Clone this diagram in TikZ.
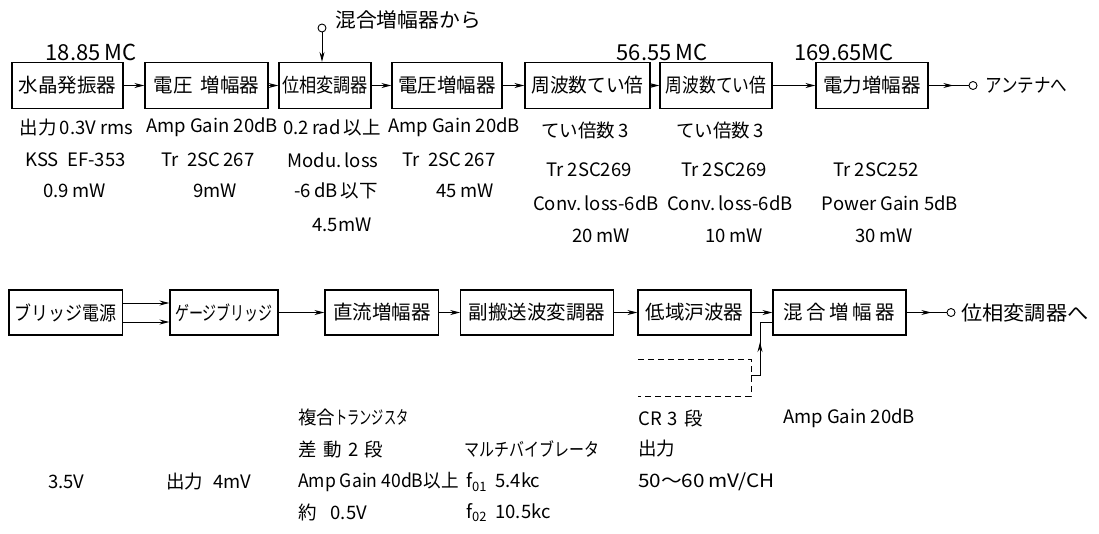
\documentclass[tikz,border=0pt]{standalone}
\usepackage{fontspec}
\setmainfont{Noto Sans CJK JP}
\usetikzlibrary{arrows.meta,decorations.markings}
\begin{document}
\begin{tikzpicture}[x=1pt,y=-1pt,
  blk/.style={draw, line width=1.1pt, minimum height=46pt, inner sep=0pt, font=\fontsize{19.5}{22}\selectfont},
  arr/.style={line width=1pt, -{Stealth[length=10pt,width=5pt]}},
  midarr/.style={line width=1pt, postaction={decorate}, decoration={markings, mark=at position 0.62 with {\arrow{Stealth[length=10pt,width=5pt]}}}},
  term/.style={circle, draw, line width=0.9pt, inner sep=0pt, minimum size=8pt, fill=white},
  lab/.style={inner sep=0pt, font=\fontsize{18.5}{20}\selectfont},
  lbl/.style={lab, anchor=west},
  freq/.style={inner sep=0pt, font=\fontsize{22}{24}\selectfont},
  dsh/.style={line width=1pt, dash pattern=on 6pt off 4pt}]
\useasboundingbox (0,0) rectangle (1099,533);

% ---------- top row ----------
\node[blk, minimum width=111pt] (a1) at (67.5,85.5) {水晶発振器};
\node[blk, minimum width=123pt] (a2) at (206.5,85.5) {電圧\hspace{8pt}増幅器};
\node[blk, minimum width=92pt] (a3) at (325,85.5) {\scalebox{0.88}[1]{位相変調器}};
\node[blk, minimum width=110pt] (a4) at (447,85.5) {電圧増幅器};
\node[blk, minimum width=125pt] (a5) at (587.5,85.5) {\scalebox{0.96}[1]{周波数てい倍}};
\node[blk, minimum width=112pt] (a6) at (716,85.5) {\scalebox{0.86}[1]{周波数てい倍}};
\node[blk, minimum width=112pt] (a7) at (872,85.5) {電力増幅器};
\node[term] (ant) at (973,85.5) {};
\node[lbl, font=\fontsize{19.5}{22}\selectfont] (antl) at (985,85.5) {\scalebox{0.85}[1]{アンテナへ}};

\draw[arr] (a1.east) -- (a2.west);
\draw[arr] (a2.east) -- (a3.west);
\draw[arr] (a3.east) -- (a4.west);
\draw[arr] (a4.east) -- (a5.west);
\draw[arr] (a5.east) -- (a6.west);
\draw[arr] (a6.east) -- (a7.west);
\draw[midarr] (a7.east) -- (ant.west);

\node[term] (mix) at (322,28) {};
\node[lbl, font=\fontsize{20}{22}\selectfont] (mixl) at (335,20) {\scalebox{1.04}[1]{混合増幅器から}};
\draw[arr] (mix.south) -- (mix.south |- a3.north);

\node[freq] (f1) at (91,52) {18.85\,MC};
\node[freq] (f2) at (662,52) {56.55\,MC};
\node[freq] (f3) at (844,52) {169.65MC};

% ---------- top descriptions ----------
\node[lab] (t11) at (76.5,127.5) {出力\,0.3V rms};
\node[lab] (t12) at (75.5,160) {KSS\ \ EF-353};
\node[lab] (t13) at (74.5,191) {0.9\,mW};

\node[lab] (t21) at (212,127.5) {Amp Gain 20dB};
\node[lab] (t22) at (208,160) {Tr\ \ 2SC\,267};
\node[lab] (t23) at (215,191) {9mW};

\node[lab] (t31) at (332,127.5) {0.2\,rad\,以上};
\node[lab] (t32) at (333,160) {Modu.\,loss};
\node[lab] (t33) at (336,191) {-6\,dB\,以下};
\node[lab] (t34) at (342,225) {4.5mW};

\node[lab] (t41) at (454,127.5) {Amp Gain 20dB};
\node[lab] (t42) at (449,160) {Tr\ \ 2SC\,267};
\node[lab] (t43) at (465,191) {45\,mW};

\node[lab] (t51) at (585,130) {てい倍数\,3};
\node[lab] (t52) at (589,169.5) {Tr\ 2SC269};
\node[lab] (t53) at (596,203) {Conv.\,loss-6dB};
\node[lab] (t54) at (601,235.5) {20\,mW};

\node[lab] (t61) at (720,130) {てい倍数\,3};
\node[lab] (t62) at (724,169.5) {Tr\ 2SC269};
\node[lab] (t63) at (730,203) {Conv.\,loss-6dB};
\node[lab] (t64) at (734,235.5) {10\,mW};

\node[lab] (t72) at (876,169.5) {Tr\ 2SC252};
\node[lab] (t73) at (890,203) {Power Gain 5dB};
\node[lab] (t74) at (884,235.5) {30\,mW};

% ---------- bottom row ----------
\node[blk, minimum width=113.5pt, minimum height=45pt] (b1) at (65.75,312.5) {\scalebox{0.87}[1]{ブリッジ電源}};
\node[blk, minimum width=108pt, minimum height=45pt] (b2) at (224,312.5) {\scalebox{0.72}[1]{ゲージブリッジ}};
\node[blk, minimum width=113.6pt, minimum height=45pt] (b3) at (381.8,312.5) {直流増幅器};
\node[blk, minimum width=152.3pt, minimum height=45pt] (b4) at (536.9,312.5) {副搬送波変調器};
\node[blk, minimum width=113pt, minimum height=45pt] (b5) at (694.5,312.5) {低域沪波器};
\node[blk, minimum width=133pt, minimum height=45pt] (b6) at (839.5,312.5) {混\hspace{3.5pt}合\hspace{3.5pt}増\hspace{3.5pt}幅\hspace{3.5pt}器};
\node[term] (out) at (951,312.5) {};
\node[lbl, font=\fontsize{20}{22}\selectfont] (outl) at (961,312.5) {\scalebox{1.06}[1]{位相変調器へ}};

\draw[arr] ([yshift=9.5pt]b1.east) -- ([yshift=9.5pt]b2.west);
\draw[arr] ([yshift=-9.5pt]b1.east) -- ([yshift=-9.5pt]b2.west);
\draw[arr] (b2.east) -- (b3.west);
\draw[arr] (b3.east) -- (b4.west);
\draw[arr] (b4.east) -- (b5.west);
\draw[arr] (b5.east) -- (b6.west);
\draw[midarr] (b6.east) -- (out.west);

\coordinate (d1) at (638,359);
\coordinate (d2) at (751,359);
\coordinate (d3) at (751,396);
\coordinate (d4) at (638,396);
\draw[dsh] (d1) -- (d2) -- (d3) -- (d4);
\coordinate (s1) at (751,375);
\coordinate (s2) at (760,375);
\coordinate (s3) at (760,342);
\coordinate (s4) at (760,322);
\draw[line width=1pt] (s1) -- (s2) -- (s4) -- (s4 -| b6.west);
\draw[arr] (s2) -- (s3);

% ---------- bottom descriptions ----------
\node[lbl] (u1) at (48,482) {3.5V};
\node[lbl] (u2) at (166,482) {出力\hspace{10pt}4mV};
\node[lbl] (u31) at (298,417) {複合\scalebox{0.66}[1]{トランジスタ}};
\node[lbl] (u32) at (298,449) {差\hspace{7pt}動\hspace{6pt}2\hspace{6pt}段};
\node[lbl] (u33) at (298,482) {\scalebox{0.95}[1]{Amp Gain 40dB以上}};
\node[lbl] (u34) at (298,512.5) {約\hspace{14pt}0.5V};
\node[lbl] (u41) at (464,449) {\scalebox{0.81}[1]{マルチバイブレータ}};
\node[lbl] (u42) at (466,482) {f\textsubscript{01}\ \ 5.4kc};
\node[lbl] (u43) at (466,512.5) {f\textsubscript{02}\ \ 10.5kc};
\node[lbl] (u51) at (638,418) {CR\hspace{6pt}3\hspace{6pt}段};
\node[lbl] (u52) at (638,449) {出力};
\node[lbl] (u53) at (638,482) {\scalebox{1.12}[1]{50〜60\,mV/CH}};
\node[lbl] (u61) at (783,418) {Amp Gain 20dB};
\end{tikzpicture}
\end{document}
